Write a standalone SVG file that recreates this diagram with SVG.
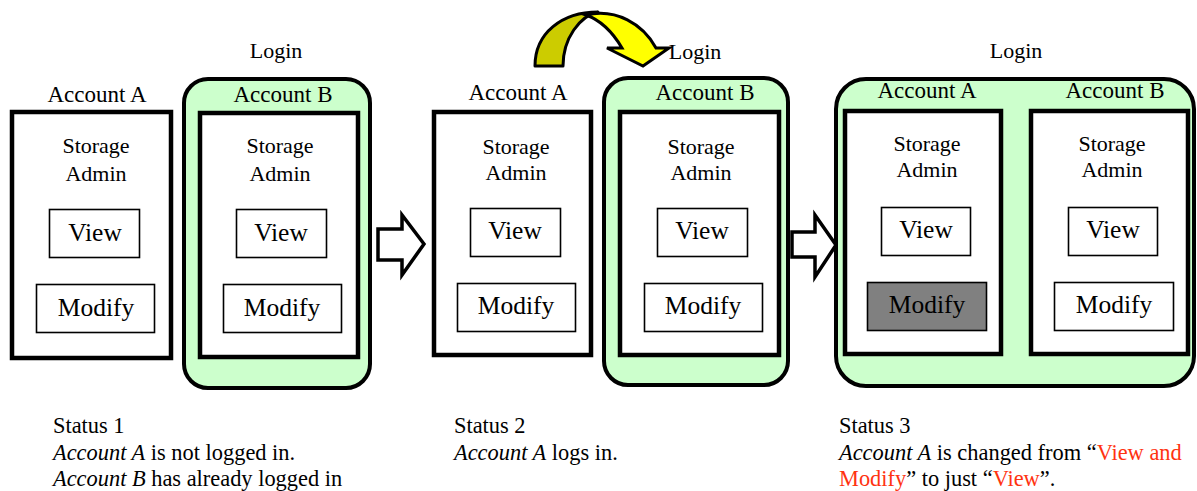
<svg xmlns="http://www.w3.org/2000/svg" width="1197" height="491" viewBox="0 0 1197 491" font-family="'Liberation Serif', 'DejaVu Serif', serif">
  <style>
    text { font-family: 'Liberation Serif', 'DejaVu Serif', serif; fill: #000; }
    .lbl { font-size: 22px; text-anchor: middle; }
    .acc { font-size: 23px; text-anchor: middle; }
    .btn { font-size: 25.5px; text-anchor: middle; }
    .note { font-size: 22.4px; }
    .red { fill: #ff3311; }
    .acct { fill: #fff; stroke: #000; stroke-width: 4.5; }
    .login { fill: #ccffcc; stroke: #000; stroke-width: 4; }
    .perm { fill: #fff; stroke: #000; stroke-width: 1.6; }
    .perm-off { fill: #808080; stroke: #000; stroke-width: 1.6; }
    .step { fill: #fff; stroke: #000; stroke-width: 3.5; stroke-linejoin: miter; }
  </style>

  <!-- Status 1 -->
  <g id="status1-login-label"><text class="lbl" x="276" y="58">Login</text></g>
  <g id="status1-account-a">
    <text class="acc" x="97" y="102">Account A</text>
    <rect class="acct" x="12" y="112" width="159" height="246"/>
    <text class="lbl" x="96" y="153">Storage</text>
    <text class="lbl" x="96" y="181">Admin</text>
    <rect class="perm" x="49.5" y="209.5" width="90" height="48"/>
    <text class="btn" x="95" y="241">View</text>
    <rect class="perm" x="36.5" y="284.5" width="118" height="48"/>
    <text class="btn" x="96" y="316">Modify</text>
  </g>
  <g id="status1-account-b">
    <rect class="login" x="184" y="79" width="186" height="309" rx="24"/>
    <text class="acc" x="283" y="102">Account B</text>
    <rect class="acct" x="200" y="113" width="158" height="244"/>
    <text class="lbl" x="280" y="153">Storage</text>
    <text class="lbl" x="280" y="181">Admin</text>
    <rect class="perm" x="236.5" y="209.5" width="90" height="48"/>
    <text class="btn" x="281" y="241">View</text>
    <rect class="perm" x="223.5" y="284.5" width="118" height="48"/>
    <text class="btn" x="282" y="316">Modify</text>
  </g>

  <!-- Status 2 -->
  <g id="status2-login-label"><text class="lbl" x="695" y="59">Login</text></g>
  <g id="status2-account-a">
    <text class="acc" x="518" y="100">Account A</text>
    <rect class="acct" x="434" y="112" width="157" height="243"/>
    <text class="lbl" x="516" y="154">Storage</text>
    <text class="lbl" x="516" y="180">Admin</text>
    <rect class="perm" x="470.5" y="208.5" width="90" height="48"/>
    <text class="btn" x="515" y="239">View</text>
    <rect class="perm" x="457.5" y="283.5" width="118" height="48"/>
    <text class="btn" x="516" y="314">Modify</text>
  </g>
  <g id="status2-account-b">
    <rect class="login" x="604" y="78" width="184" height="307" rx="24"/>
    <text class="acc" x="705" y="100">Account B</text>
    <rect class="acct" x="620" y="112" width="159" height="243"/>
    <text class="lbl" x="701" y="154">Storage</text>
    <text class="lbl" x="701" y="180">Admin</text>
    <rect class="perm" x="657.5" y="208.5" width="90" height="48"/>
    <text class="btn" x="702" y="239">View</text>
    <rect class="perm" x="644.5" y="283.5" width="118" height="48"/>
    <text class="btn" x="703" y="314">Modify</text>
  </g>

  <!-- Status 3 -->
  <g id="status3-login">
    <text class="lbl" x="1016" y="58">Login</text>
    <rect class="login" x="836" y="79" width="358" height="307" rx="30"/>
  </g>
  <g id="status3-account-a">
    <text class="acc" x="927" y="98">Account A</text>
    <rect class="acct" x="845" y="111" width="156" height="243"/>
    <text class="lbl" x="927" y="151">Storage</text>
    <text class="lbl" x="927" y="177">Admin</text>
    <rect class="perm" x="881.5" y="207.5" width="89" height="48"/>
    <text class="btn" x="926" y="238">View</text>
    <rect class="perm-off" x="867.5" y="282.5" width="119" height="48"/>
    <text class="btn" x="927" y="313">Modify</text>
  </g>
  <g id="status3-account-b">
    <text class="acc" x="1115" y="98">Account B</text>
    <rect class="acct" x="1031" y="111" width="157" height="243"/>
    <text class="lbl" x="1112" y="151">Storage</text>
    <text class="lbl" x="1112" y="177">Admin</text>
    <rect class="perm" x="1068.5" y="207.5" width="89" height="48"/>
    <text class="btn" x="1113" y="238">View</text>
    <rect class="perm" x="1054.5" y="282.5" width="119" height="48"/>
    <text class="btn" x="1114" y="313">Modify</text>
  </g>

  <!-- Transitions -->
  <g id="connectors">
    <path class="step" d="M378,229 L402,229 L402,215 L424,244 L402,275 L402,260 L378,260 Z"/>
    <path class="step" d="M792,232 L815,232 L815,215 L836,245 L815,277 L815,257 L792,257 Z"/>
    <!-- curved login arrow: back band then front band with head -->
    <path d="M535,66 C535,33 562,12 598,12 C580,16 563,38 563,66 Z" fill="#cccc00" stroke="#000" stroke-width="3" stroke-linejoin="round"/>
    <path d="M586,15 C616,8 643,24 656,48 L669,48 L643,66 L607,48 L622,48 C612,31 600,20 586,15 Z" fill="#ffff00" stroke="#000" stroke-width="3" stroke-linejoin="miter"/>
  </g>

  <!-- Status notes -->
  <g id="note1">
    <text class="note" x="53" y="433">Status 1</text>
    <text class="note" x="53" y="460"><tspan font-style="italic">Account A</tspan> is not logged in.</text>
    <text class="note" x="53" y="486"><tspan font-style="italic">Account B</tspan> has already logged in</text>
  </g>
  <g id="note2">
    <text class="note" x="454" y="433">Status 2</text>
    <text class="note" x="454" y="460"><tspan font-style="italic">Account A</tspan> logs in.</text>
  </g>
  <g id="note3">
    <text class="note" x="839" y="433">Status 3</text>
    <text class="note" x="839" y="460"><tspan font-style="italic">Account A</tspan> is changed from “<tspan class="red">View and</tspan></text>
    <text class="note" x="839" y="486"><tspan class="red">Modify</tspan>” to just “<tspan class="red">View</tspan>”.</text>
  </g>
</svg>
